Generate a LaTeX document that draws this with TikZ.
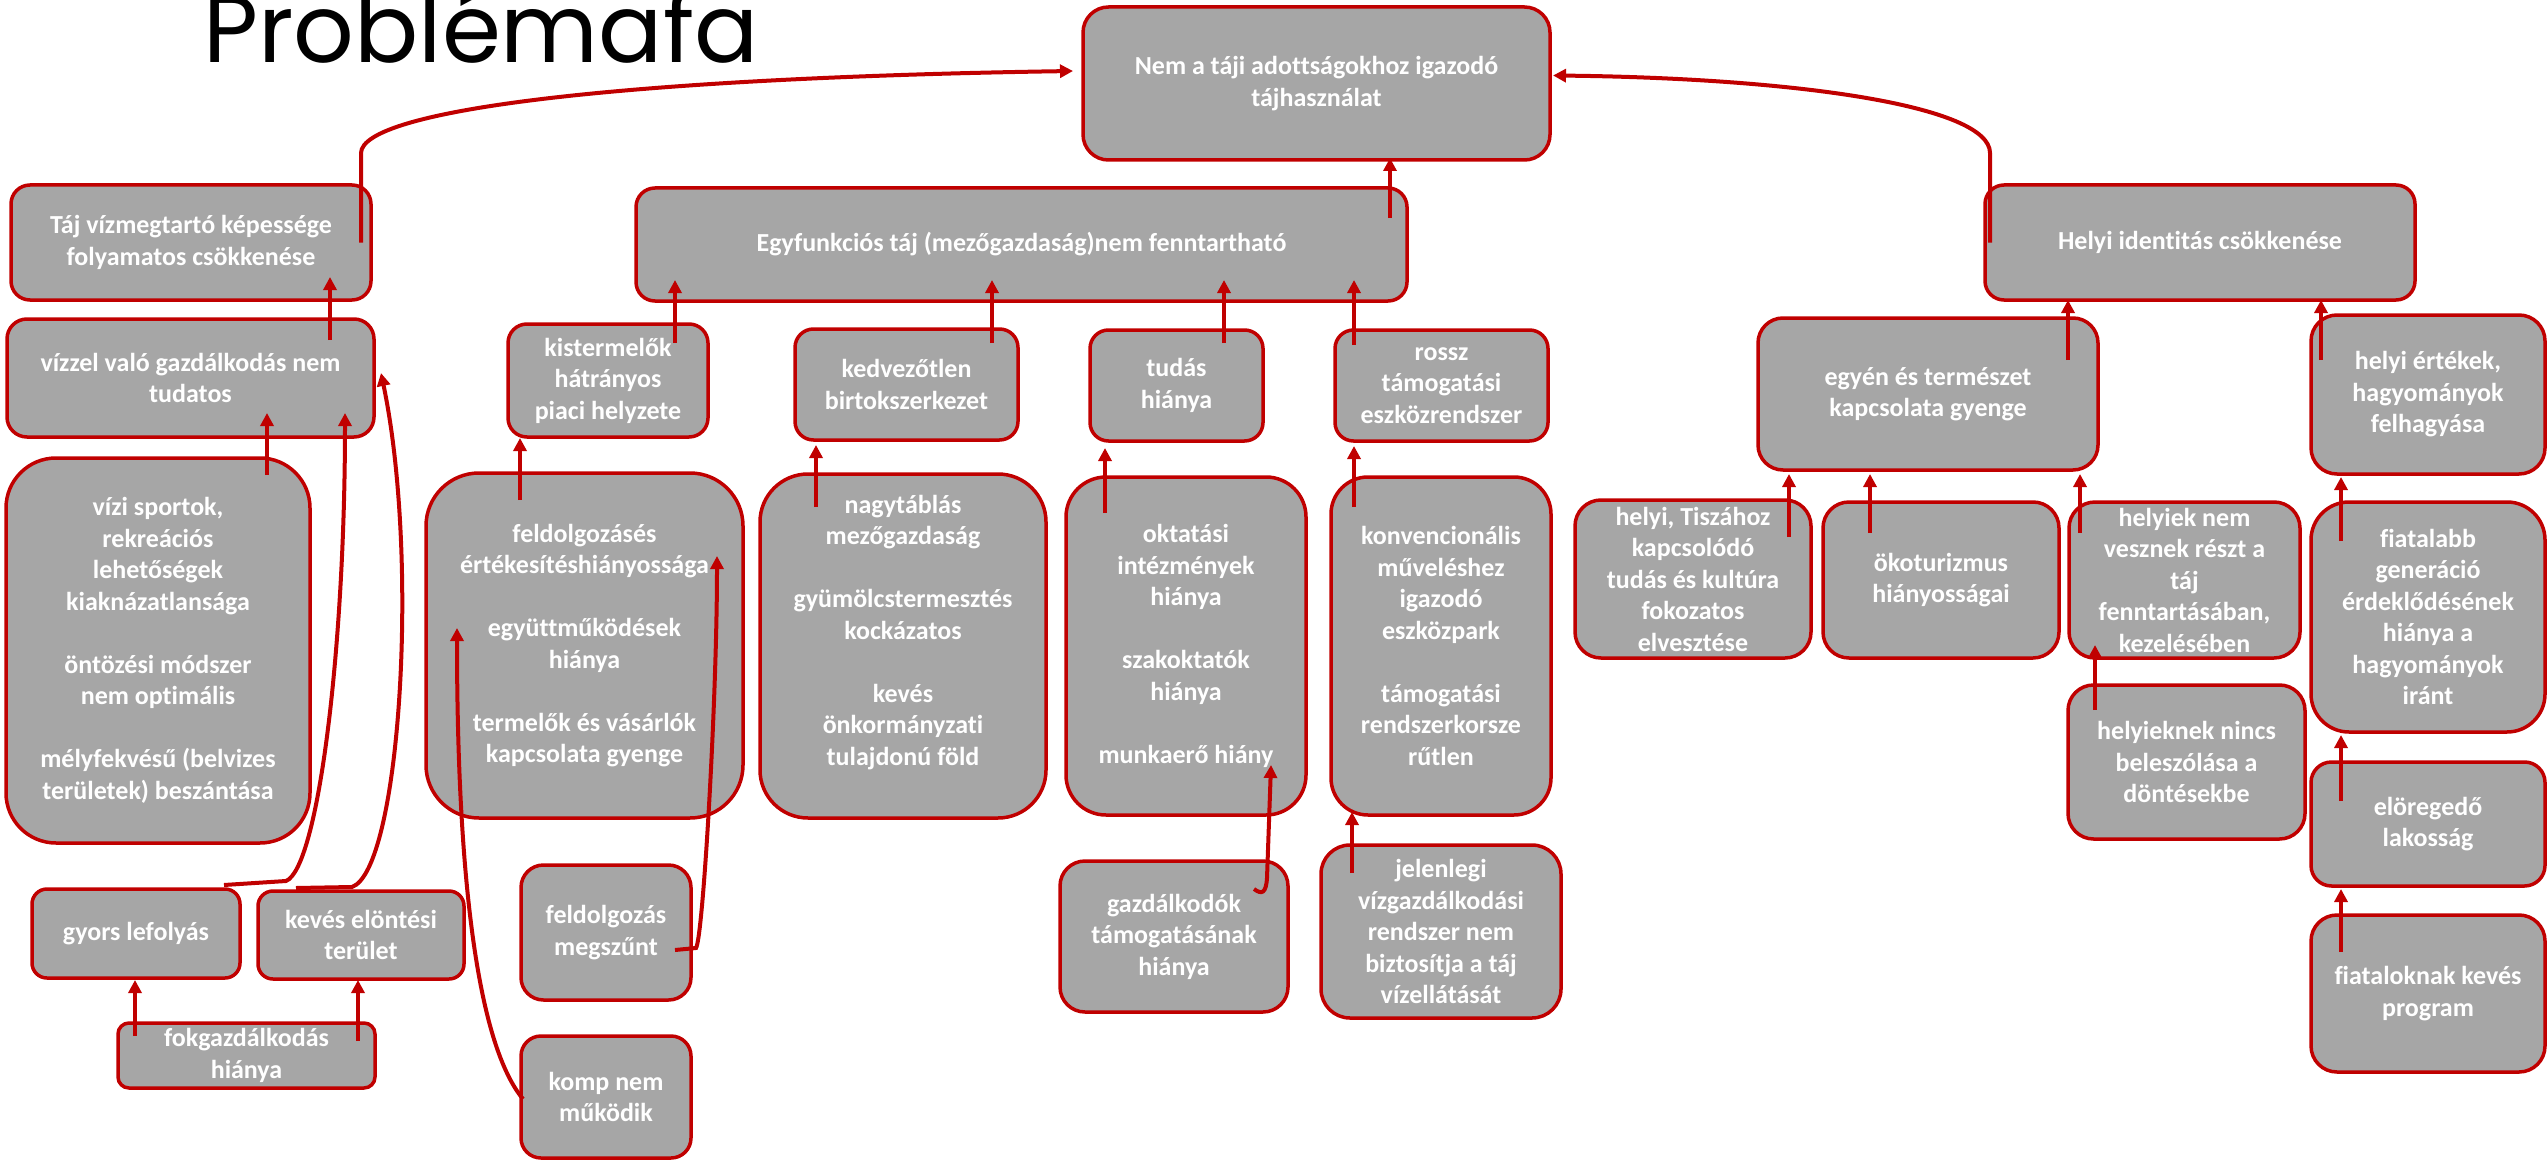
\documentclass[tikz,border=0pt]{standalone}
\usepackage{fontspec}
\setmainfont{Carlito}[Ligatures=NoCommon]
\newfontfamily\titlefont{Poppins}
\usetikzlibrary{arrows.meta,calc}
\definecolor{redc}{HTML}{C00000}
\definecolor{boxg}{HTML}{A6A6A6}
\tikzset{
 pbox/.style={draw=redc, line width=3.5pt, fill=boxg, text=white,
   font=\fontsize{26}{31.5}\selectfont\bfseries, align=center, inner sep=0pt, outer sep=0pt},
 arr/.style={draw=redc, line width=4pt, -{Triangle[length=13pt,width=13pt]}},
}
\newcommand\pbx[7]{\node[pbox, minimum width=#4pt, minimum height=#5pt, rounded corners=#6pt] (#1) at (#2,#3) {#7};}
\begin{document}
\begin{tikzpicture}[x=1pt,y=-1pt]
\useasboundingbox (0,0) rectangle (2547,1161);
\clip (0,0) rectangle (2547,1161);
\node[anchor=base west, inner sep=0pt, font=\titlefont\fontsize{95}{104}\selectfont] (title) at (203,63) {Problémafa};

\pbx{A}{1316.5}{83.5}{467}{153}{25.5}{Nem a táji adottságokhoz igazodó\\tájhasználat}
\pbx{B}{191}{242.5}{360}{115}{19}{Táj vízmegtartó képessége\\folyamatos csökkenése}
\pbx{C}{1021.5}{244.5}{771}{113}{19}{Egyfunkciós táj (mezőgazdaság)nem fenntartható}
\pbx{D}{2200}{242.5}{430}{115}{19}{Helyi identitás csökkenése}
\pbx{E}{190.5}{378}{367}{118}{20}{vízzel való gazdálkodás nem\\tudatos}
\pbx{F}{608}{380.5}{200}{113}{19}{kistermelők\\hátrányos\\piaci helyzete}
\pbx{G}{906.5}{384.5}{223}{111}{18.5}{kedvezőtlen\\birtokszerkezet}
\pbx{H}{1176.5}{385.5}{173}{111}{18.5}{tudás\\hiánya}
\pbx{I}{1441.5}{385.5}{213}{111}{18.5}{rossz\\támogatási\\eszközrendszer}
\pbx{J}{1928}{394}{340}{152}{25}{egyén és természet\\kapcsolata gyenge}
\pbx{K}{2428}{394.5}{234}{159}{26}{helyi értékek,\\hagyományok\\felhagyása}
\pbx{L}{158}{650.5}{304}{385}{50}{vízi sportok,\\rekreációs\\lehetőségek\\kiaknázatlansága\\[31.5pt]öntözési módszer\\nem optimális\\[31.5pt]mélyfekvésű (belvizes\\területek) beszántása}
\pbx{M}{584.5}{645.5}{317}{345}{53}{feldolgozásés\\értékesítéshiányossága\\[31.5pt]együttműködések\\hiánya\\[31.5pt]termelők és vásárlók\\kapcsolata gyenge}
\pbx{N}{903}{646}{286}{344}{48}{nagytáblás\\mezőgazdaság\\[31.5pt]gyümölcstermesztés\\kockázatos\\[31.5pt]kevés\\önkormányzati\\tulajdonú föld\\\mbox{}}
\pbx{O}{1186}{646}{240}{338}{40}{oktatási\\intézmények\\hiánya\\[31.5pt]szakoktatók\\hiánya\\[31.5pt]munkaerő hiány}
\pbx{P}{1441}{646}{220}{338}{37}{konvencionális\\műveléshez\\igazodó\\eszközpark\\[31.5pt]támogatási\\rendszerkorsze\\rűtlen}
\pbx{Q}{1693}{579}{236}{158}{26}{helyi, Tiszához\\kapcsolódó\\tudás és kultúra\\fokozatos\\elvesztése}
\pbx{R}{1941}{580}{236}{156}{26}{ökoturizmus\\hiányosságai}
\pbx{S}{2184.5}{580}{231}{156}{26}{helyiek nem\\vesznek részt a\\táj\\fenntartásában,\\kezelésében}
\pbx{T}{2428}{617}{234}{230}{38}{fiatalabb\\generáció\\érdeklődésének\\hiánya a\\hagyományok\\iránt}
\pbx{U}{2186.5}{762}{237}{154}{25.5}{helyieknek nincs\\beleszólása a\\döntésekbe}
\pbx{V}{2428}{824}{234}{124}{20.5}{elöregedő\\lakosság}
\pbx{W}{2428}{993.5}{234}{157}{26}{fiataloknak kevés\\program}
\pbx{X}{136}{933.5}{208}{89}{15}{gyors lefolyás}
\pbx{Y}{361}{935}{206}{88}{15}{kevés elöntési\\terület}
\pbx{Z}{246.5}{1055.5}{257}{65}{11}{fokgazdálkodás\\hiánya}
\pbx{AA}{606}{932.5}{170}{135}{22.5}{feldolgozás\\megszűnt}
\pbx{AB}{606}{1097}{170}{122}{20}{komp nem\\működik}
\pbx{AC}{1174}{936.5}{228}{151}{25}{gazdálkodók\\támogatásának\\hiánya}
\pbx{AD}{1441}{931.5}{240}{173}{29}{jelenlegi\\vízgazdálkodási\\rendszer nem\\biztosítja a táj\\vízellátását}

% curved main connectors
\draw[arr] ($(B)+(170,0)$) -- ($(B)+(170,-89.5)$) .. controls (362,110) and (620,78) .. ($(A.west)+(-10,-12.5)$);
\draw[arr] ($(D)+(-210,0)$) -- ($(D)+(-210,-89.5)$) .. controls (1990,105) and (1790,78) .. ($(A.east)+(3,-8)$);
\draw[arr] ($(C)+(368.5,-26.5)$) -- ($(A.south)+(73.5,-2)$);
% left cluster
\draw[arr] ($(E)+(139.5,-38)$) -- ($(B)+(139,34.5)$);
\draw[arr] ($(L)+(109,-175.5)$) -- ($(E)+(76.5,35)$);
\draw[arr] ($(X)+(88,-48.5)$) -- (286,881) .. controls (318,868) and (345,650) .. ($(E)+(154.5,35)$);
\draw[arr] ($(Y)+(-65,-47)$) -- (352,887) .. controls (400,870) and (420,560) .. ($(E.east)+(7,-5)$);
\draw[arr] ($(Z)+(-111.5,-19.5)$) -- ($(X)+(-1,46.5)$);
\draw[arr] ($(Z)+(111.5,-14.5)$) -- ($(Y)+(-3,45)$);
% middle
\draw[arr] ($(F)+(67,-37.5)$) -- ($(C)+(-346.5,35.5)$);
\draw[arr] ($(G)+(85.5,-41.5)$) -- ($(C)+(-29.5,35.5)$);
\draw[arr] ($(H)+(47.5,-42.5)$) -- ($(C)+(202.5,35.5)$);
\draw[arr] ($(I)+(-87.5,-40.5)$) -- ($(C)+(332.5,35.5)$);
\draw[arr] ($(M)+(-64.5,-145.5)$) -- ($(F)+(-88,57.5)$);
\draw[arr] ($(AA)+(69,17.5)$) -- (696,948) .. controls (703,938) and (717,700) .. ($(M)+(132.5,-89.5)$);
\draw[arr] ($(AB.west)+(2,2)$) .. controls (478,1045) and (457,880) .. ($(M)+(-127.5,-17.5)$);
\draw[arr] ($(N)+(-87,-139)$) -- ($(G)+(-90.5,60.5)$);
\draw[arr] ($(O)+(-81,-133)$) -- ($(H)+(-71.5,62.5)$);
\draw[arr] ($(P)+(-87,-139)$) -- ($(I)+(-87.5,60.5)$);
\draw[arr] ($(AC)+(80,-47.5)$) .. controls (1262,895) and (1266,893) .. (1267,878) -- ($(O)+(85,119)$);
\draw[arr] ($(AD)+(-89,-58.5)$) -- ($(P)+(-89,166)$);
% right
\draw[arr] ($(J)+(140,-34)$) -- ($(D)+(-132,57.5)$);
\draw[arr] ($(K)+(-107,-34.5)$) -- ($(D)+(121,57.5)$);
\draw[arr] ($(Q)+(96,-42)$) -- ($(J)+(-139,80)$);
\draw[arr] ($(R)+(-71,-47)$) -- ($(J)+(-58,80)$);
\draw[arr] ($(S)+(-104.5,-47)$) -- ($(J)+(152,80)$);
\draw[arr] ($(U)+(-91.5,-52)$) -- ($(S)+(-89.5,65)$);
\draw[arr] ($(T)+(-87,-76)$) -- ($(K)+(-87,82.5)$);
\draw[arr] ($(V)+(-87,-23)$) -- ($(T)+(-87,118)$);
\draw[arr] ($(W)+(-87,-41.5)$) -- ($(V)+(-87,65)$);
\end{tikzpicture}
\end{document}
